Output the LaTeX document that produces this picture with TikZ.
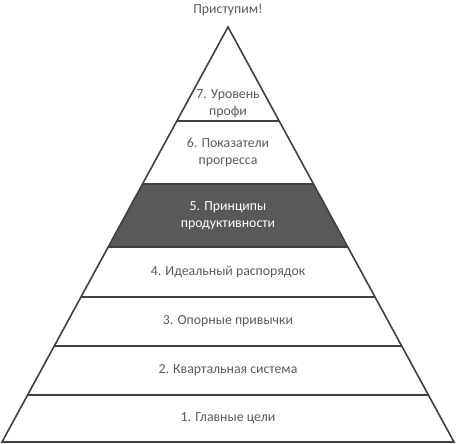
\documentclass[tikz,border=0pt]{standalone}
\usepackage{fontspec}
\setmainfont{Carlito}
\definecolor{txt}{HTML}{595959}
\definecolor{edge}{HTML}{404040}
\definecolor{band}{HTML}{595959}
\begin{document}
\begin{tikzpicture}[x=1pt,y=-1pt,
  lbl/.style={font=\fontsize{13.8}{17}\selectfont, text=txt, align=center, inner sep=0pt},
  wlbl/.style={lbl, text=white},
  edgeline/.style={draw=edge, line width=1.6pt, line join=miter}]
\useasboundingbox (0,0) rectangle (456,444);
% dark band
\fill[band] (142.5,184) -- (313.5,184) -- (347.8,247) -- (108.2,247) -- cycle;
% pyramid outline
\coordinate (A) at (228,27);
\coordinate (L) at (2,442);
\coordinate (R) at (454,442);
\draw[edgeline] (A) -- (R) -- (L) -- cycle;
% level lines
\draw[edgeline] (176.8,121) -- (279.2,121);
\draw[edgeline] (142.5,184) -- (313.5,184);
\draw[edgeline] (108.2,247) -- (347.8,247);
\draw[edgeline] (81.0,297) -- (375.0,297);
\draw[edgeline] (54.3,346) -- (401.7,346);
\draw[edgeline] (27.6,395) -- (428.4,395);
% labels
\node[lbl] (t0) at (228,10) {Приступим!};
\node[lbl] (t7) at (228,104) {7. Уровень\\профи};
\node[lbl] (t6) at (228,152.5) {6. Показатели\\прогресса};
\node[wlbl] (t5) at (228,215.5) {5. Принципы\\продуктивности};
\node[lbl] (t4) at (228,272) {4. Идеальный распорядок};
\node[lbl] (t3) at (228,321.5) {3. Опорные привычки};
\node[lbl] (t2) at (228,370.5) {2. Квартальная система};
\node[lbl] (t1) at (228,418) {1. Главные цели};
\end{tikzpicture}
\end{document}
